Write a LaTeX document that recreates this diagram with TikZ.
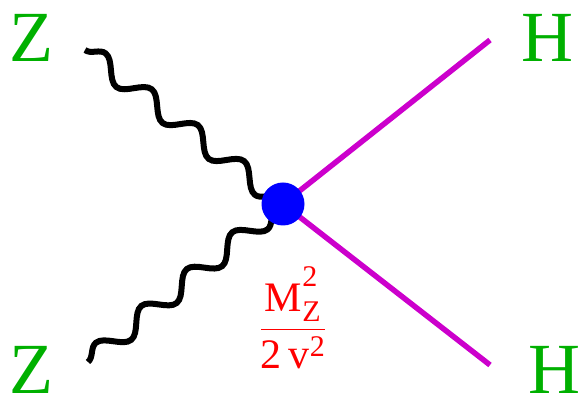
\RequirePackage{fix-cm}
\documentclass[tikz,border=0pt]{standalone}
\usepackage{fontspec}
\setmainfont{Liberation Serif}
\setmathrm{Liberation Serif}
\DeclareMathSizes{42}{42}{30}{21}
\usetikzlibrary{decorations.pathmorphing}
\definecolor{legGreen}{RGB}{0,176,0}
\definecolor{legMag}{RGB}{204,0,204}

\begin{document}
\begin{tikzpicture}[x=1pt, y=-1pt,
  boson/.style={line width=6pt, decorate,
                decoration={snake, segment length=58.5pt, amplitude=10pt}},
  scalar/.style={line width=5.5pt, draw=legMag},
  leg/.style={text=legGreen, inner sep=0pt, anchor=base,
              text height=48pt, text depth=0pt,
              font=\fontsize{72}{80}\selectfont},
  coup/.style={text=red, inner sep=0pt, anchor=base,
               font=\fontsize{42}{48}\selectfont}
]
\useasboundingbox (0,0) rectangle (582,403);

\coordinate (vtx) at (283,204);
\coordinate (zin1) at (85,50);
\coordinate (zin2) at (88,362);
\coordinate (hout1) at (490,40);
\coordinate (hout2) at (490,365);

% scalar legs
\draw[scalar] (vtx) -- (hout1);
\draw[scalar] (vtx) -- (hout2);

% gauge boson legs
\draw[boson] (zin1) -- (vtx);
\draw[boson] (zin2) -- (vtx);

\fill[blue] (vtx) circle[radius=21.5];

\node[leg] (lblZa) at (31,62)  {Z};
\node[leg] (lblZb) at (31,394) {Z};
\node[leg] (lblHa) at (547,62) {H};
\node[leg] (lblHb) at (554,394) {H};

% coupling, superscript lifted clear of the Z
\node[coup] (lblC) at (293,339.5)
  {$\displaystyle\frac{\mathrm{M}_{\mathrm{Z}}^{\raisebox{9pt}{$\scriptstyle\mathrm{2}$}}}{\mathrm{2}\,\mathrm{v}^{\mathrm{2}}}$};

\end{tikzpicture}
\end{document}
